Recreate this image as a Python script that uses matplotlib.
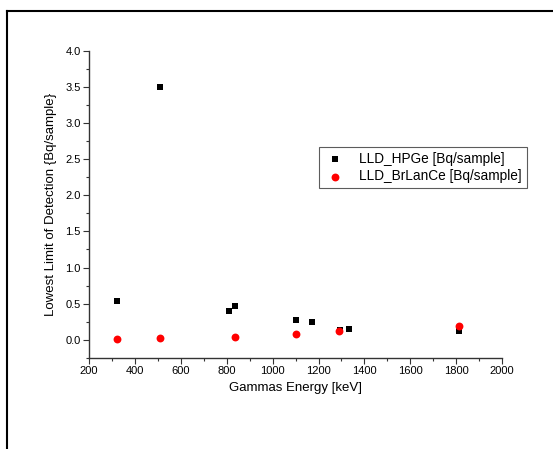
import matplotlib
matplotlib.use("Agg")
import matplotlib.pyplot as plt
from matplotlib.lines import Line2D
from matplotlib.ticker import MultipleLocator

plt.rcParams['font.family'] = ['Liberation Sans', 'DejaVu Sans']

# === Data ===
energy_hpge = [320, 511, 810, 834, 1100, 1173, 1293, 1333, 1810]
lld_hpge = [0.54, 3.50, 0.40, 0.47, 0.28, 0.25, 0.14, 0.15, 0.12]

energy_brlance = [320, 511, 834, 1100, 1290, 1810]
lld_brlance = [0.01, 0.02, 0.04, 0.08, 0.12, 0.19]

x_label = "Gammas Energy [keV]"
y_label = "Lowest Limit of Detection {Bq/sample}"

# === Figure ===
fig = plt.figure(figsize=(5.53, 4.49), dpi=100)
ax = fig.add_axes([0.161, 0.203, 0.747, 0.684])

ax.scatter(energy_hpge, lld_hpge, marker='s', s=22, color='black',
           linewidths=0, label='LLD_HPGe [Bq/sample]', zorder=3)
ax.scatter(energy_brlance, lld_brlance, marker='o', s=32, color='red',
           linewidths=0, label='LLD_BrLanCe [Bq/sample]', zorder=4)

ax.set_xlim(200, 2000)
ax.set_ylim(-0.25, 4.0)
ax.xaxis.set_major_locator(MultipleLocator(200))
ax.xaxis.set_minor_locator(MultipleLocator(100))
ax.yaxis.set_major_locator(MultipleLocator(0.5))
ax.yaxis.set_minor_locator(MultipleLocator(0.25))

for side in ('top', 'right'):
    ax.spines[side].set_visible(False)
for side in ('left', 'bottom'):
    ax.spines[side].set_color('#333333')
    ax.spines[side].set_linewidth(1.0)

ax.tick_params(which='major', direction='out', length=4, width=0.8,
               color='#333333', labelsize=8, pad=2)
ax.tick_params(which='minor', direction='out', length=2.5, width=0.8,
               color='#333333')

ax.set_xlabel(x_label, fontsize=9.5, labelpad=4)
ax.set_ylabel(y_label, fontsize=9.5, labelpad=6)

leg = ax.legend(loc='upper left', bbox_to_anchor=(319 / 553, 1 - 147 / 449),
                bbox_transform=fig.transFigure, borderaxespad=0,
                fontsize=9.8, frameon=True, fancybox=False, handletextpad=1.0,
                borderpad=0.35, labelspacing=0.25, handlelength=1.6,
                scatterpoints=1)
leg.get_frame().set_edgecolor('#333333')
leg.get_frame().set_linewidth(0.8)

# page frame along the top and left edges
fig.add_artist(Line2D([7 / 553, 1.0], [1 - 11 / 449, 1 - 11 / 449],
                      transform=fig.transFigure, color='black', linewidth=1.5))
fig.add_artist(Line2D([7 / 553, 7 / 553], [0.0, 1 - 11 / 449],
                      transform=fig.transFigure, color='black', linewidth=1.5))

fig.savefig("out.png", dpi=100)
